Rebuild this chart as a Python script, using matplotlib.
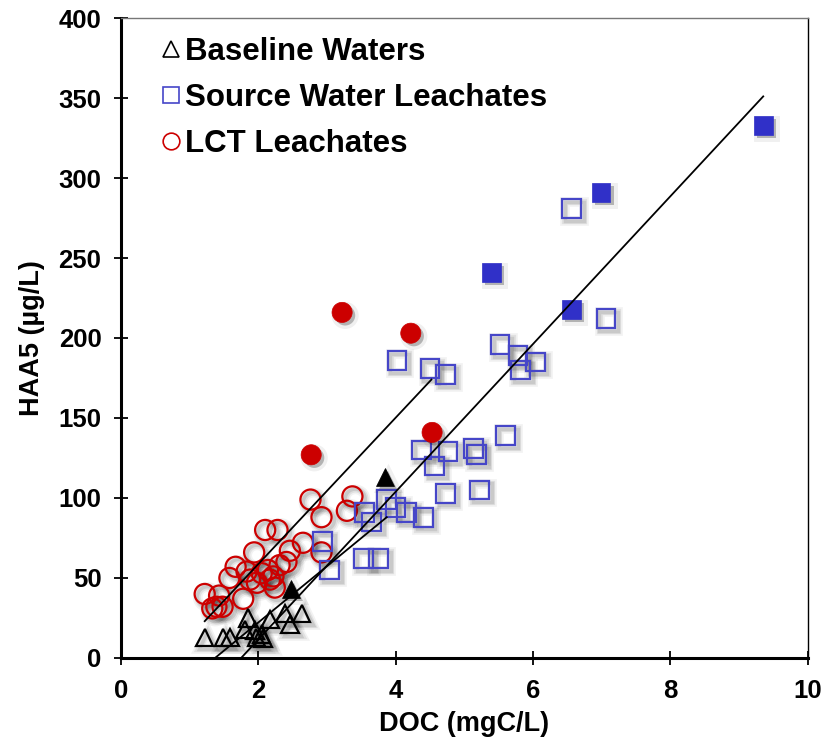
import matplotlib
matplotlib.use("Agg")
import matplotlib.pyplot as plt
import matplotlib.patheffects as pe
from matplotlib.lines import Line2D

# Baseline waters (open) and the two highlighted baseline samples (filled)
bw_doc = [1.22, 1.49, 1.59, 1.80, 1.85, 1.95, 1.97, 2.05, 2.07, 2.17, 2.39, 2.46, 2.63]
bw_haa5 = [13, 13, 13, 18, 25, 17, 13, 15, 12, 24, 28, 21, 28]
bw_doc_hi = [2.48, 3.84]
bw_haa5_hi = [43, 113]

# Source water leachates
sw_doc = [2.94, 3.04, 3.53, 3.75, 3.55, 3.65, 3.87, 4.00, 4.16, 4.40, 4.73, 5.22,
          4.38, 4.57, 4.76, 5.13, 5.18, 5.60, 4.02, 4.50, 4.72, 5.52, 5.78, 5.82,
          6.03, 6.56, 7.06]
sw_haa5 = [73, 55, 62, 62, 91, 85, 99, 94, 91, 88, 103, 105,
           130, 120, 129, 131, 127, 139, 186, 181, 177, 196, 189, 180,
           185, 281, 212]
sw_doc_hi = [5.39, 6.56, 6.99, 9.35]
sw_haa5_hi = [241, 218, 291, 333]

# LCT leachates
lct_doc = [1.22, 1.33, 1.39, 1.48, 1.43, 1.58, 1.67, 1.78, 1.83, 1.88, 1.94, 1.98,
           2.05, 2.10, 2.14, 2.17, 2.22, 2.24, 2.28, 2.31, 2.41, 2.46, 2.65, 2.76,
           2.92, 2.92, 3.29, 3.37]
lct_haa5 = [40, 31, 32, 32, 39, 50, 57, 37, 54, 49, 66, 47,
            53, 80, 55, 49, 51, 44, 80, 58, 60, 67, 72, 99,
            88, 66, 92, 101]
lct_doc_hi = [2.77, 3.22, 4.22, 4.53]
lct_haa5_hi = [127, 216, 203, 141]

# Linear fits (end points)
bw_fit_x = [1.37, 3.87]
bw_fit_y = [0, 88]
sw_fit_x = [1.75, 9.35]
sw_fit_y = [0, 351]
lct_fit_x = [1.22, 4.52]
lct_fit_y = [23, 174]

BLUE_EDGE = "#4646C8"
BLUE_FILL = "#3030C8"
RED = "#CC0000"

FONT = "Liberation Sans"
plt.rcParams["font.family"] = FONT
plt.rcParams["font.weight"] = "bold"

# soft drop shadow: a few wide, faint strokes under each marker
open_shadow = [pe.SimpleLineShadow(offset=(2.2, -2.2), shadow_color="black", alpha=0.05, linewidth=7),
               pe.SimpleLineShadow(offset=(2.2, -2.2), shadow_color="black", alpha=0.07, linewidth=4.5),
               pe.SimpleLineShadow(offset=(2.0, -2.0), shadow_color="black", alpha=0.10, linewidth=2.5),
               pe.Normal()]
fill_shadow = [pe.SimpleLineShadow(offset=(2.2, -2.2), shadow_color="black", alpha=0.06, linewidth=5),
               pe.SimplePatchShadow(offset=(2.2, -2.2), shadow_rgbFace="black", alpha=0.25),
               pe.Normal()]

fig = plt.figure(figsize=(8.28, 7.44), dpi=100)
ax = fig.add_axes([0.146, 0.1156, 0.8297, 0.8602])


def open_pts(x, y, marker, color, size, mew=1.6):
    ax.plot(x, y, linestyle="none", marker=marker, markersize=size,
            markerfacecolor="none", markeredgecolor=color, markeredgewidth=mew,
            path_effects=open_shadow, zorder=2)


def filled_pts(x, y, marker, color, size):
    ax.plot(x, y, linestyle="none", marker=marker, markersize=size,
            markerfacecolor=color, markeredgecolor=color, markeredgewidth=0.5,
            path_effects=fill_shadow, zorder=2)


open_pts(lct_doc, lct_haa5, "o", RED, 14.5)
open_pts(sw_doc, sw_haa5, "s", BLUE_EDGE, 13.5)
open_pts(bw_doc, bw_haa5, "^", "black", 12.5)
filled_pts(lct_doc_hi, lct_haa5_hi, "o", RED, 14.5)
filled_pts(sw_doc_hi, sw_haa5_hi, "s", BLUE_FILL, 13.5)
filled_pts(bw_doc_hi, bw_haa5_hi, "^", "black", 13)

for fx, fy in [(bw_fit_x, bw_fit_y), (sw_fit_x, sw_fit_y), (lct_fit_x, lct_fit_y)]:
    ax.plot(fx, fy, color="black", linewidth=1.3, zorder=3)

ax.set_xlim(0, 10)
ax.set_ylim(0, 400)
ax.set_xticks(range(0, 11, 2))
ax.set_yticks(range(0, 401, 50))
ax.tick_params(axis="both", direction="inout", length=10, width=1.3, labelsize=18.5)
ax.tick_params(axis="x", pad=10)
ax.tick_params(axis="y", pad=9)
for lbl in ax.get_xticklabels() + ax.get_yticklabels():
    lbl.set_fontweight("bold")

ax.spines["left"].set_linewidth(2.2)
ax.spines["bottom"].set_linewidth(2.2)
ax.spines["top"].set_linewidth(1.0)
ax.spines["top"].set_color("#777777")
ax.spines["right"].set_linewidth(1.0)

ax.set_xlabel("DOC (mgC/L)", fontsize=19.5, fontweight="bold", labelpad=6)
ax.set_ylabel("HAA5 (µg/L)", fontsize=19.5, fontweight="bold", labelpad=10)

handles = [
    Line2D([], [], linestyle="none", marker="^", markersize=11, markerfacecolor="none",
           markeredgecolor="black", markeredgewidth=1.2),
    Line2D([], [], linestyle="none", marker="s", markersize=11, markerfacecolor="none",
           markeredgecolor=BLUE_EDGE, markeredgewidth=1.2),
    Line2D([], [], linestyle="none", marker="o", markersize=12, markerfacecolor="none",
           markeredgecolor=RED, markeredgewidth=1.2),
]
labels = ["Baseline Waters", "Source Water Leachates", "LCT Leachates"]
ax.legend(handles, labels, loc="upper left", bbox_to_anchor=(0.03, 1.0),
          frameon=False, handlelength=0.7, handletextpad=0.1, labelspacing=0.52,
          borderaxespad=0.2, prop={"family": FONT, "weight": "bold", "size": 22.5})

fig.savefig("out.png", dpi=100)
